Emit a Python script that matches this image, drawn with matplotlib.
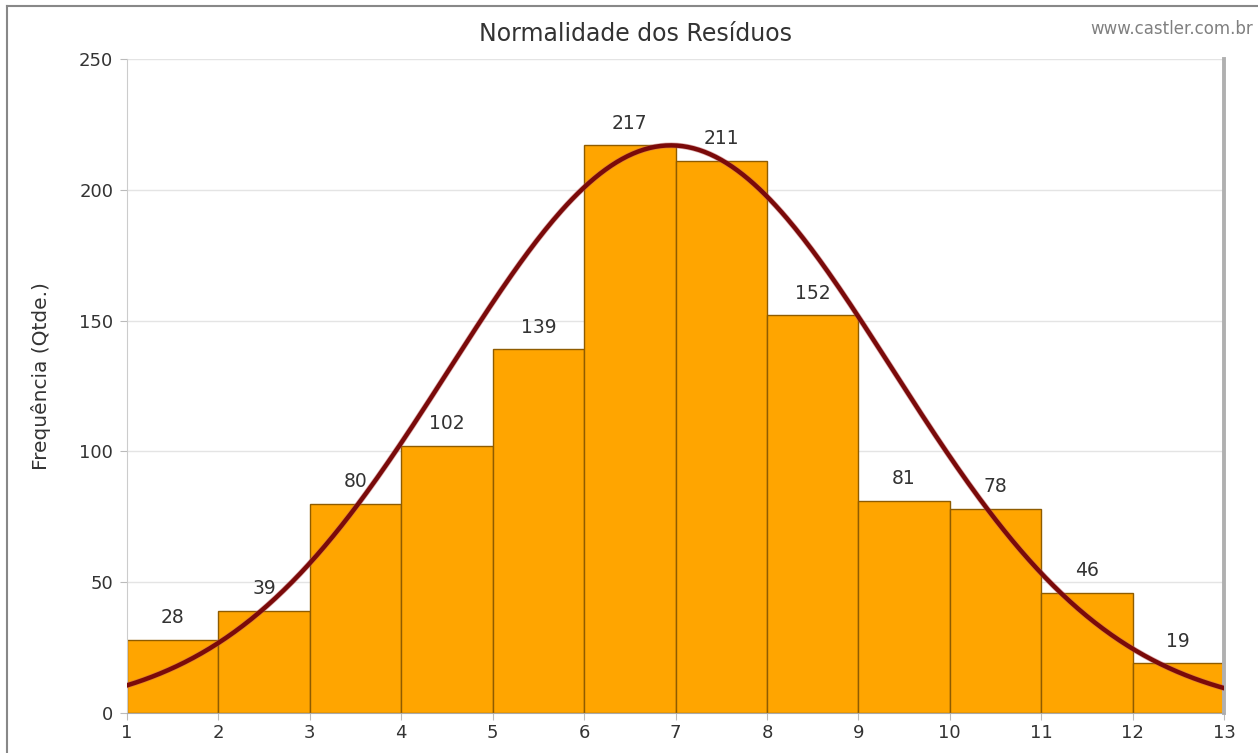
import matplotlib.pyplot as plt
import numpy as np
from matplotlib.lines import Line2D

# Dados do histograma
bin_edges = [1, 2, 3, 4, 5, 6, 7, 8, 9, 10, 11, 12, 13]
counts = [28, 39, 80, 102, 139, 217, 211, 152, 81, 78, 46, 19]
y_ticks = [0, 50, 100, 150, 200, 250]

edges = np.array(bin_edges, dtype=float)
vals = np.array(counts, dtype=float)
centers = (edges[:-1] + edges[1:]) / 2

# curva normal ajustada (média e desvio do próprio histograma, pico = maior barra)
mu = np.sum(vals * centers) / vals.sum()
sigma = np.sqrt(np.sum(vals * (centers - mu) ** 2) / vals.sum())
xs = np.linspace(edges[0], edges[-1], 400)
curve = vals.max() * np.exp(-(xs - mu) ** 2 / (2 * sigma ** 2))

fig = plt.figure(figsize=(12.58, 7.53), dpi=100)
ax = fig.add_axes([0.101, 0.0531, 0.872, 0.8685])

ax.bar(edges[:-1], vals, width=np.diff(edges), align='edge',
       color='#FFA500', edgecolor='#8f5c00', linewidth=1.0, zorder=2)
ax.plot(xs, curve, color='#c06060', linewidth=4.2, alpha=0.5, zorder=3)
ax.plot(xs, curve, color='#7a0a0a', linewidth=3.2, zorder=3)

for c, v in zip(centers, vals):
    ax.annotate(f"{int(v)}", (c, v), xytext=(0, 16), textcoords='offset points',
                ha='center', va='center', fontsize=13.5, color='#333333')

ax.set_xlim(edges[0], edges[-1])
ax.set_ylim(0, 250)
ax.set_xticks(bin_edges)
ax.set_yticks(y_ticks)
ax.tick_params(axis='both', labelsize=13, labelcolor='#333333', color='#bbbbbb',
               length=5, pad=3)
ax.tick_params(axis='y', pad=5)
ax.grid(axis='y', color='#e4e4e4', linewidth=1, zorder=0)
ax.set_axisbelow(True)

ax.spines['top'].set_visible(False)
ax.spines['left'].set_color('#cccccc')
ax.spines['bottom'].set_color('#aaaaaa')
ax.spines['right'].set_color('#b0b0b0')
ax.spines['right'].set_linewidth(2.8)

ax.set_ylabel("Frequência (Qtde.)", fontsize=14.5, color='#333333')
ax.yaxis.set_label_coords(-0.069, 0.515)
fig.text(0.5055, 0.955, "Normalidade dos Resíduos", ha='center', va='center',
         fontsize=17, color='#333333')
fig.text(0.996, 0.962, "www.castler.com.br", ha='right', va='center',
         fontsize=12, color='#808080')

# moldura da imagem (esquerda e topo)
fig.add_artist(Line2D([0.0055, 0.0055], [0, 0.992], transform=fig.transFigure,
                      color='#888888', linewidth=1.5))
fig.add_artist(Line2D([0.0055, 1], [0.992, 0.992], transform=fig.transFigure,
                      color='#888888', linewidth=1.5))

fig.savefig("out.png", dpi=100)
